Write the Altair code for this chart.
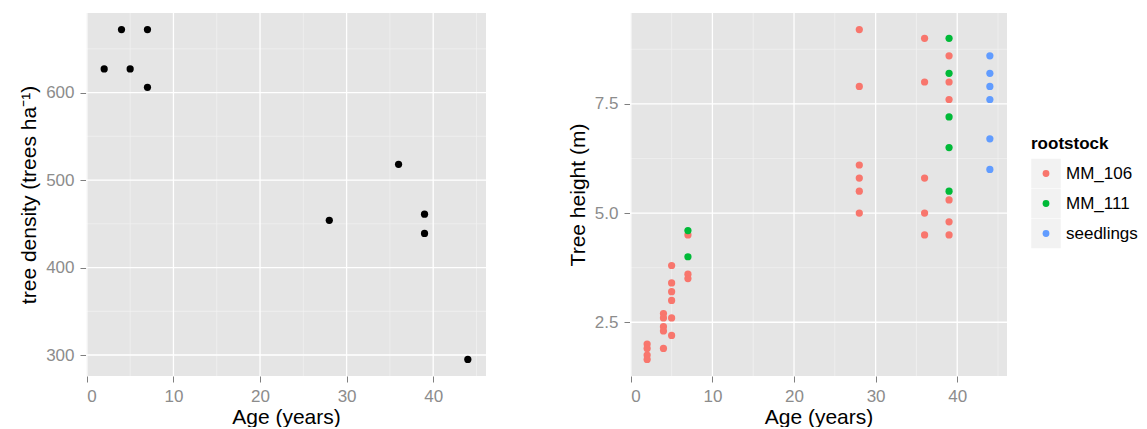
import altair as alt
import pandas as pd

# ---------------- data ----------------
density_age = [2, 4, 5, 7, 7, 28, 36, 39, 39, 44]
density_trees = [627, 672, 627, 672, 606, 454, 518, 461, 439, 295]

mm106_age = [2, 2, 2, 2, 4, 4, 4, 4, 4, 5, 5, 5, 5, 5, 5, 7, 7, 7,
             28, 28, 28, 28, 28, 28, 36, 36, 36, 36, 36, 39, 39, 39, 39, 39, 39]
mm106_height = [2.0, 1.9, 1.75, 1.65, 2.7, 2.6, 2.4, 2.3, 1.9, 3.8, 3.4, 3.2, 3.0, 2.6, 2.2,
                4.5, 3.6, 3.5, 9.2, 7.9, 6.1, 5.8, 5.5, 5.0, 9.0, 8.0, 5.8, 5.0, 4.5,
                8.6, 8.0, 7.6, 5.3, 4.8, 4.5]
mm111_age = [7, 7, 39, 39, 39, 39, 39]
mm111_height = [4.6, 4.0, 9.0, 8.2, 7.2, 6.5, 5.5]
seed_age = [44, 44, 44, 44, 44, 44]
seed_height = [8.6, 8.2, 7.9, 7.6, 6.7, 6.0]

rootstock_levels = ["MM_106", "MM_111", "seedlings"]
rootstock_colors = ["#F8766D", "#00BA38", "#619CFF"]

x_major = [0, 10, 20, 30, 40]
x_minor = [5, 15, 25, 35, 45]
dens_major = [300, 400, 500, 600]
dens_minor = [350, 450, 550, 650]
ht_major = [2.5, 5.0, 7.5]
ht_minor = [3.75, 6.25, 8.75]

# ---------------- frames ----------------
dens_df = pd.DataFrame({"Age": density_age, "density": density_trees})
ht_df = pd.DataFrame({
    "Age": mm106_age + mm111_age + seed_age,
    "height": mm106_height + mm111_height + seed_height,
    "rootstock": ["MM_106"] * len(mm106_age) + ["MM_111"] * len(mm111_age)
                 + ["seedlings"] * len(seed_age),
})

PANEL_BG = "#E5E5E5"
MINOR = "#F2F2F2"
FONT = "Liberation Sans"

xscale = alt.Scale(domain=[-0.1, 46.1], nice=False, zero=False)
xaxis = alt.Axis(values=x_major, title="Age (years)", grid=False, titlePadding=2)


def grid(xmaj, xmin, ymaj, ymin, ysc, yax):
    layers = []
    for vals, col, w, ch in [(xmin, MINOR, 0.7, "x"), (ymin, MINOR, 0.7, "y"),
                             (xmaj, "white", 1.3, "x"), (ymaj, "white", 1.3, "y")]:
        df = pd.DataFrame({"v": vals})
        if ch == "x":
            enc = {"x": alt.X("v:Q", scale=xscale, axis=xaxis)}
        else:
            enc = {"y": alt.Y("v:Q", scale=ysc, axis=yax)}
        layers.append(alt.Chart(df).mark_rule(color=col, strokeWidth=w).encode(**enc))
    return layers


# ---------------- left panel ----------------
dens_scale = alt.Scale(domain=[276, 691], nice=False, zero=False)
dens_axis = alt.Axis(values=dens_major, title="tree density (trees ha⁻¹)", grid=False)
left_pts = alt.Chart(dens_df).mark_circle(size=52, color="black", opacity=1).encode(
    x=alt.X("Age:Q", scale=xscale, axis=xaxis),
    y=alt.Y("density:Q", scale=dens_scale, axis=dens_axis),
)
left = alt.layer(*grid(x_major, x_minor, dens_major, dens_minor, dens_scale, dens_axis),
                 left_pts).properties(
    width=400, height=363, view=alt.ViewBackground(fill=PANEL_BG, strokeWidth=0)
)

# ---------------- right panel ----------------
ht_scale = alt.Scale(domain=[1.27, 9.58], nice=False, zero=False)
ht_axis = alt.Axis(values=ht_major, format=".1f", title="Tree height (m)", grid=False)
color_scale = alt.Scale(domain=rootstock_levels, range=rootstock_colors)
right_pts = alt.Chart(ht_df).mark_circle(size=52, opacity=1).encode(
    x=alt.X("Age:Q", scale=xscale, axis=xaxis),
    y=alt.Y("height:Q", scale=ht_scale, axis=ht_axis),
    color=alt.Color("rootstock:N", scale=color_scale, legend=None),
)
right = alt.layer(*grid(x_major, x_minor, ht_major, ht_minor, ht_scale, ht_axis),
                  right_pts).properties(
    width=377, height=363, view=alt.ViewBackground(fill=PANEL_BG, strokeWidth=0)
)

# ---------------- legend (drawn as a small chart) ----------------
leg_df = pd.DataFrame({"rootstock": rootstock_levels})
ly = alt.Y("rootstock:N", axis=None,
           scale=alt.Scale(type="point", domain=rootstock_levels, range=[160.5, 220.5], padding=0))
keys = alt.Chart(leg_df).mark_square(size=870, color=MINOR, opacity=1).encode(
    x=alt.value(15), y=ly)
dots = alt.Chart(leg_df).mark_circle(size=46, opacity=1).encode(
    x=alt.value(15), y=ly, color=alt.Color("rootstock:N", scale=color_scale, legend=None))
labs = alt.Chart(leg_df).mark_text(align="left", baseline="middle", fontSize=17, font=FONT,
                                   color="black").encode(
    x=alt.value(35), y=ly, text="rootstock:N")
ttl = alt.Chart(pd.DataFrame({"t": ["rootstock"]})).mark_text(
    align="left", baseline="middle", fontSize=17, font=FONT, fontWeight="bold", color="black"
).encode(x=alt.value(0), y=alt.value(131), text="t:N")
legend = alt.layer(keys, dots, labs, ttl).properties(
    width=112, height=363, view=alt.ViewBackground(strokeWidth=0)
)

chart = alt.hconcat(
    left,
    alt.hconcat(right, legend, spacing=23),
    spacing=80,
).properties(
    padding={"left": 18, "top": 12, "right": 0, "bottom": 0}
).configure_axis(
    domain=False,
    tickColor="#7f7f7f",
    tickSize=6,
    labelColor="#8c8c8c",
    labelFontSize=17,
    labelFont=FONT,
    labelPadding=6,
    titleFont=FONT,
    titleFontSize=21,
    titleFontWeight="normal",
    titleColor="black",
    titlePadding=6,
).configure_view(strokeWidth=0)

chart.save("out.html", embed_options={"renderer": "svg", "actions": False})
